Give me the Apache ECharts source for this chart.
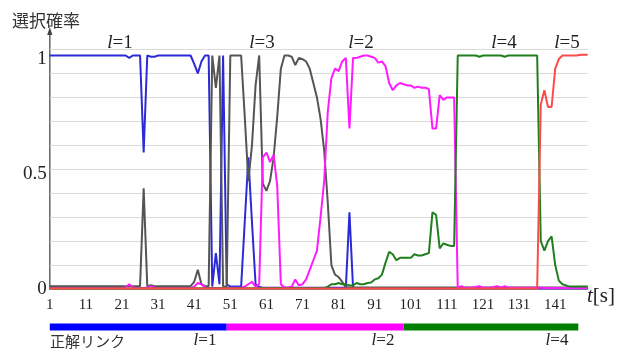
<!DOCTYPE html>
<html><head><meta charset="utf-8">
<script src="https://cdn.jsdelivr.net/npm/echarts@6/dist/echarts.min.js"></script>
<style>html,body{margin:0;padding:0;background:#fff}#c{width:626px;height:352px}</style>
</head><body><div id="c"></div>
<script>
// time categories (t = 1..150 s)
const times = [];
for (let i = 1; i <= 150; i++) times.push(String(i));

// selection probability of link l=1 (blue)
const linkL1 = [
0.975,0.975,0.975,0.975,0.975,0.975,0.975,0.975,0.975,0.975,
0.975,0.975,0.975,0.975,0.975,0.975,0.975,0.975,0.975,0.975,
0.975,0.975,0.965,0.975,0.975,0.975,0.57,0.975,0.97,0.97,
0.975,0.975,0.975,0.975,0.975,0.975,0.975,0.975,0.975,0.975,
0.94,0.9,0.95,0.975,0.975,0.01,0.15,0.02,0.975,0.02,
0.01,0.01,0.01,0.01,0.28,0.55,0.28,0.02,0.008,0.005,
0.005,0.005,0.005,0.005,0.005,0.005,0.005,0.005,0.005,0.005,
0.005,0.005,0.005,0.005,0.005,0.005,0.005,0.005,0.005,0.005,
0.005,0.005,0.005,0.32,0.005,0.004,0.004,0.004,0.004,0.004,
0.004,0.004,0.004,0.004,0.004,0.004,0.004,0.004,0.004,0.004,
0.003,0.003,0.003,0.003,0.003,0.003,0.003,0.003,0.003,0.003,
0.003,0.003,0.003,0.003,0.003,0.003,0.003,0.003,0.003,0.003,
0.003,0.003,0.003,0.003,0.003,0.003,0.003,0.003,0.003,0.003,
0.003,0.003,0.003,0.003,0.003,0.003,0.003,0.003,0.003,0.003,
0.003,0.003,0.003,0.003,0.003,0.003,0.003,0.003,0.003,0.003
];
// link l=3 (gray)
const linkL3 = [
0.012,0.012,0.012,0.012,0.012,0.012,0.012,0.012,0.012,0.012,
0.012,0.012,0.012,0.012,0.012,0.012,0.012,0.012,0.012,0.012,
0.012,0.012,0.012,0.012,0.012,0.012,0.42,0.012,0.016,0.012,
0.012,0.012,0.012,0.012,0.012,0.012,0.012,0.012,0.012,0.012,
0.03,0.08,0.02,0.012,0.012,0.975,0.84,0.975,0.01,0.01,
0.975,0.975,0.975,0.975,0.72,0.45,0.6,0.85,0.975,0.44,
0.41,0.45,0.55,0.72,0.92,0.975,0.975,0.97,0.935,0.965,
0.96,0.95,0.92,0.86,0.8,0.71,0.58,0.36,0.1,0.06,
0.05,0.03,0.008,0.006,0.006,0.006,0.006,0.006,0.006,0.006,
0.006,0.006,0.006,0.006,0.006,0.006,0.006,0.006,0.006,0.006,
0.006,0.006,0.006,0.006,0.006,0.006,0.006,0.006,0.006,0.006,
0.006,0.006,0.006,0.006,0.006,0.006,0.006,0.006,0.006,0.006,
0.006,0.006,0.006,0.006,0.006,0.006,0.006,0.006,0.006,0.006,
0.006,0.006,0.006,0.006,0.006,0.006,0.006,0.006,0.006,0.006,
0.006,0.006,0.006,0.006,0.006,0.006,0.006,0.006,0.006,0.006
];
// link l=2 (magenta)
const linkL2 = [
0.004,0.004,0.004,0.004,0.004,0.004,0.004,0.004,0.004,0.004,
0.004,0.004,0.004,0.004,0.004,0.004,0.004,0.004,0.004,0.004,
0.004,0.006,0.02,0.006,0.004,0.004,0.004,0.006,0.012,0.005,
0.004,0.004,0.004,0.004,0.004,0.004,0.004,0.004,0.004,0.004,
0.01,0.025,0.02,0.006,0.004,0.004,0.004,0.004,0.004,0.004,
0.005,0.005,0.005,0.006,0.01,0.02,0.03,0.01,0.02,0.55,
0.57,0.53,0.56,0.43,0.02,0.006,0.006,0.01,0.04,0.015,
0.02,0.04,0.08,0.12,0.16,0.3,0.45,0.74,0.88,0.92,
0.91,0.95,0.965,0.67,0.965,0.965,0.97,0.975,0.975,0.97,
0.965,0.945,0.95,0.93,0.86,0.83,0.85,0.86,0.855,0.85,
0.85,0.84,0.845,0.84,0.84,0.835,0.67,0.67,0.81,0.79,
0.8,0.8,0.8,0.005,0.012,0.005,0.005,0.006,0.008,0.012,
0.005,0.005,0.006,0.008,0.012,0.006,0.012,0.006,0.005,0.005,
0.005,0.005,0.005,0.005,0.005,0.005,0.005,0.004,0.004,0.004,
0.004,0.004,0.004,0.004,0.004,0.004,0.004,0.004,0.004,0.004
];
// link l=4 (green)
const linkL4 = [
0.002,0.002,0.002,0.002,0.002,0.002,0.002,0.002,0.002,0.002,
0.002,0.002,0.002,0.002,0.002,0.002,0.002,0.002,0.002,0.002,
0.002,0.002,0.002,0.002,0.002,0.002,0.002,0.002,0.002,0.002,
0.002,0.002,0.002,0.002,0.002,0.002,0.002,0.002,0.002,0.002,
0.003,0.003,0.003,0.003,0.003,0.003,0.003,0.003,0.003,0.003,
0.003,0.003,0.003,0.003,0.003,0.003,0.003,0.003,0.003,0.003,
0.003,0.003,0.003,0.003,0.003,0.003,0.003,0.003,0.003,0.003,
0.003,0.003,0.003,0.003,0.003,0.003,0.003,0.01,0.02,0.02,
0.025,0.02,0.02,0.015,0.015,0.025,0.02,0.02,0.025,0.027,
0.04,0.045,0.06,0.11,0.155,0.145,0.12,0.13,0.13,0.13,
0.13,0.145,0.14,0.14,0.145,0.15,0.32,0.31,0.17,0.19,
0.185,0.18,0.18,0.975,0.975,0.975,0.975,0.975,0.975,0.97,
0.975,0.975,0.975,0.975,0.975,0.975,0.97,0.975,0.975,0.975,
0.975,0.975,0.975,0.975,0.975,0.975,0.2,0.16,0.2,0.22,
0.1,0.035,0.02,0.015,0.01,0.01,0.01,0.01,0.01,0.01
];
// link l=5 (red)
const linkL5 = [
0.002,0.002,0.002,0.002,0.002,0.002,0.002,0.002,0.002,0.002,
0.002,0.002,0.002,0.002,0.002,0.002,0.002,0.002,0.002,0.002,
0.002,0.002,0.002,0.002,0.002,0.002,0.002,0.002,0.002,0.002,
0.002,0.002,0.002,0.002,0.002,0.002,0.002,0.002,0.002,0.002,
0.002,0.002,0.002,0.002,0.002,0.002,0.002,0.002,0.002,0.002,
0.002,0.002,0.002,0.002,0.002,0.002,0.002,0.002,0.002,0.002,
0.002,0.002,0.002,0.002,0.002,0.002,0.002,0.002,0.002,0.002,
0.002,0.002,0.002,0.002,0.002,0.002,0.002,0.002,0.002,0.002,
0.002,0.002,0.002,0.002,0.002,0.002,0.002,0.002,0.002,0.002,
0.002,0.002,0.002,0.002,0.002,0.002,0.002,0.002,0.002,0.002,
0.002,0.002,0.002,0.002,0.002,0.002,0.002,0.002,0.002,0.002,
0.002,0.002,0.002,0.002,0.002,0.002,0.002,0.002,0.002,0.002,
0.002,0.002,0.002,0.002,0.002,0.002,0.002,0.002,0.002,0.002,
0.002,0.002,0.002,0.002,0.002,0.002,0.77,0.83,0.76,0.76,
0.92,0.96,0.975,0.975,0.975,0.975,0.975,0.978,0.978,0.978
];
// correct link segments: [label, start t, end t]
const truthLabels = ['l=1', 'l=2', 'l=4'];
const truthStart = [1, 50, 99];
const truthEnd = [50, 99, 147.4];
const yTickLabels = ['0', '0.5', '1'];

const SERIF = '"Liberation Serif","DejaVu Serif",serif';
const lineColors = {l1:'#2b2bd6', l2:'#ff1aff', l3:'#555555', l4:'#1f7f1f', l5:'#ff4a4a'};
const barColors = ['#0000ff', '#ff00ff', '#008000'];

function mk(name, data, color) {
  return {name, type:'line', xAxisIndex:0, yAxisIndex:0, data, symbol:'none', smooth:false,
    lineStyle:{color, width:2}, itemStyle:{color}, animation:false};
}
const series = [
  mk('l=1', linkL1, lineColors.l1),
  mk('l=3', linkL3, lineColors.l3),
  mk('l=2', linkL2, lineColors.l2),
  mk('l=4', linkL4, lineColors.l4),
  mk('l=5', linkL5, lineColors.l5)
];
truthLabels.forEach((lb, i) => {
  series.push({name:'truth '+lb, type:'line', xAxisIndex:1, yAxisIndex:2, symbol:'none',
    data:[[truthStart[i],0],[truthEnd[i],0]],
    lineStyle:{color:barColors[i], width:7, cap:'butt'}, animation:false});
});

function rt(x, y, it, num, size, align) {
  return {type:'text', x, y, style:{text:'{i|'+it+'}{n|'+num+'}', align:align||'center', verticalAlign:'middle',
    rich:{i:{fontFamily:SERIF, fontStyle:'italic', fontSize:size, fill:'#222'},
          n:{fontFamily:SERIF, fontSize:size, fill:'#222'}}}};
}

const chart = echarts.init(document.getElementById('c'), null, {renderer:'canvas'});
chart.setOption({
  backgroundColor:'#fff',
  animation:false,
  grid:[{left:49.8, right:38.3, top:49.5, bottom:63},
        {left:49.8, right:38.3, top:322, height:10}],
  xAxis:[
    {type:'category', gridIndex:0, data:times, boundaryGap:false,
     axisLine:{show:true, lineStyle:{color:'#777', width:1.5}}, axisTick:{show:false},
     axisLabel:{interval:9, fontFamily:SERIF, fontSize:15, color:'#222', margin:9},
     splitLine:{show:false}},
    {type:'value', gridIndex:1, min:1, max:150, show:false}
  ],
  yAxis:[
    {type:'value', gridIndex:0, position:'left', min:0, max:1, interval:0.1,
     axisLine:{show:false}, axisTick:{show:false}, axisLabel:{show:false},
     splitLine:{show:true, lineStyle:{color:'#d9d9d9', width:1}}},
    {type:'value', gridIndex:0, position:'left', offset:0, min:0, max:1.041, interval:0.5,
     axisLine:{show:false}, axisTick:{show:false}, splitLine:{show:false},
     axisLabel:{fontFamily:SERIF, fontSize:19, color:'#222', margin:3,
       formatter:function(v){ if (Math.abs(v)<1e-9) return yTickLabels[0];
         if (Math.abs(v-0.5)<1e-9) return yTickLabels[1];
         if (Math.abs(v-1)<1e-9) return yTickLabels[2]; return ''; }}},
    {type:'value', gridIndex:1, min:-1, max:1, show:false}
  ],
  series,
  graphic:[
    {type:'line', shape:{x1:49.8, y1:289.5, x2:49.8, y2:33}, style:{stroke:'#666', lineWidth:1.5}},
    {type:'polygon', shape:{points:[[49.8,27],[47.2,35],[52.4,35]]}, style:{fill:'#444'}},
    {type:'text', x:12, y:21, style:{text:'選択確率', font:'17px "Noto Sans CJK JP"', fill:'#333', verticalAlign:'middle'}},
    rt(120, 43, 'l', '=1', 19), rt(262, 43, 'l', '=3', 19), rt(361, 43, 'l', '=2', 19), rt(504, 43, 'l', '=4', 19), rt(567, 43, 'l', '=5', 19),
    rt(601, 296, 't', '[s]', 21),
    {type:'text', x:50, y:341, style:{text:'正解リンク', font:'15px "Noto Sans CJK JP"', fill:'#333', verticalAlign:'middle'}},
    rt(205, 341, 'l', '=1', 17), rt(383, 341, 'l', '=2', 17), rt(557, 341, 'l', '=4', 17)
  ]
});
</script></body></html>
